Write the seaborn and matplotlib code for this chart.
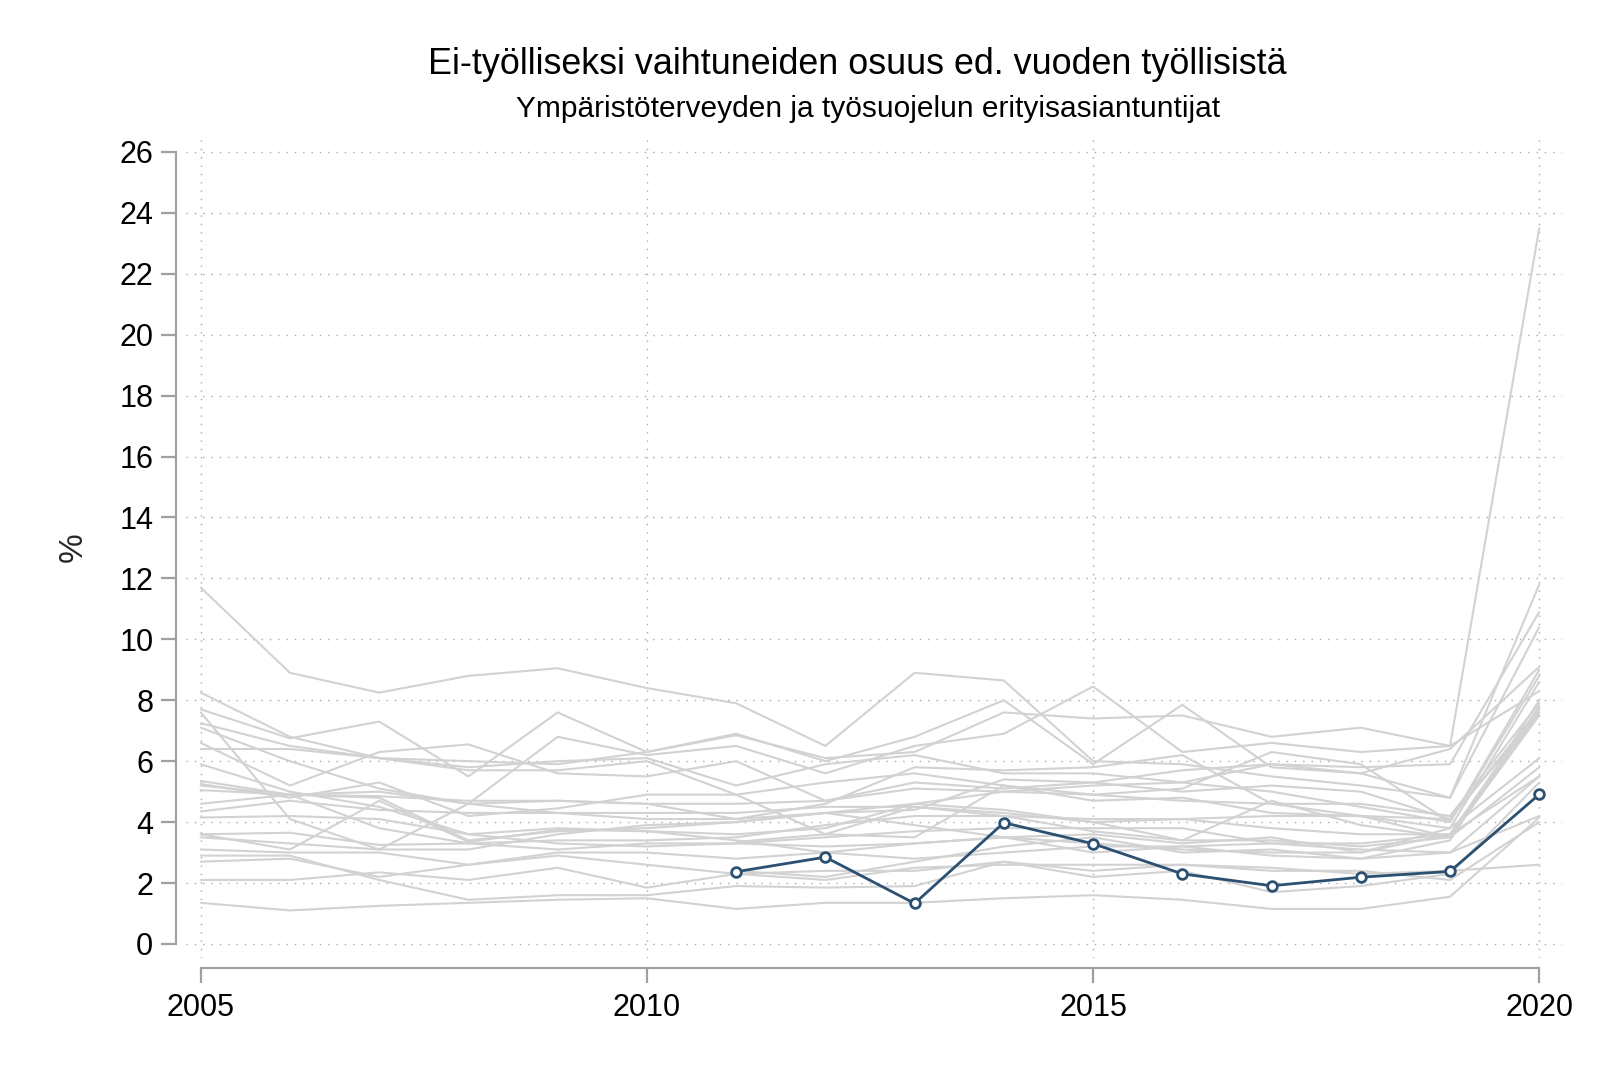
import numpy as np
import pandas as pd
import matplotlib
matplotlib.use("Agg")
import matplotlib.pyplot as plt
import seaborn as sns

years = list(range(2005, 2021))
nan = np.nan

# Highlighted occupation group
highlight_name = "Ympäristöterveyden ja työsuojelun erityisasiantuntijat"
highlight_values = [nan, nan, nan, nan, nan, nan, 2.37, 2.85, 1.33, 3.98, 3.29, 2.30, 1.91, 2.19, 2.38, 4.91]

# Other occupation groups (background)
g01 = [11.7, 8.9, 8.25, 8.8, 9.05, 8.4, 7.9, 6.5, 8.9, 8.65, 6.0, 5.9, 5.5, 5.2, 4.8, 11.8]
g02 = [8.25, 6.8, 6.1, 6.0, 5.9, 6.3, 6.85, 6.1, 6.3, 7.6, 7.4, 7.5, 6.8, 7.1, 6.5, 23.5]
g03 = [7.7, 6.75, 7.3, 5.5, 7.6, 6.3, 6.9, 6.0, 6.8, 8.0, 5.9, 7.85, 5.8, 5.6, 6.4, 9.1]
g04 = [7.6, 4.1, 3.1, 4.6, 6.8, 6.2, 6.5, 5.6, 6.5, 6.9, 8.45, 6.3, 6.6, 6.3, 6.5, 8.3]
g05 = [7.25, 6.5, 6.1, 5.8, 6.0, 6.1, 5.2, 5.9, 6.2, 5.6, 5.6, 5.3, 5.9, 5.8, 5.9, 10.9]
g06 = [7.1, 6.0, 5.1, 4.6, 4.3, 4.1, 4.1, 4.6, 5.8, 5.7, 5.8, 6.2, 4.6, 4.6, 4.2, 7.9]
g07 = [6.6, 5.2, 6.3, 6.55, 5.6, 5.5, 6.0, 4.7, 5.3, 5.1, 5.3, 5.0, 5.2, 5.0, 4.1, 7.6]
g08 = [6.4, 6.4, 6.1, 5.7, 5.7, 6.0, 4.9, 5.3, 5.6, 5.2, 4.9, 5.1, 6.3, 5.9, 4.0, 9.0]
g09 = [5.9, 5.0, 4.5, 3.6, 3.8, 3.7, 3.6, 3.8, 4.6, 4.4, 4.0, 3.4, 4.7, 3.9, 3.5, 7.5]
g10 = [5.35, 4.9, 5.0, 4.6, 4.7, 4.6, 4.1, 4.3, 4.4, 5.4, 5.3, 5.7, 5.9, 5.6, 4.8, 10.4]
g11 = [5.25, 4.8, 5.3, 4.2, 4.45, 4.9, 4.9, 3.6, 3.5, 5.2, 4.7, 4.8, 4.3, 4.2, 4.1, 7.7]
g12 = [5.2, 4.9, 4.8, 3.4, 3.7, 3.8, 4.0, 4.3, 4.6, 5.0, 5.2, 5.3, 5.0, 4.5, 4.0, 8.8]
g13 = [5.05, 4.9, 4.85, 4.7, 4.7, 4.6, 4.6, 4.7, 5.1, 5.0, 4.9, 4.7, 4.6, 4.2, 3.8, 6.1]
g14 = [4.6, 4.9, 3.8, 3.3, 3.4, 3.4, 3.5, 3.9, 4.2, 4.2, 3.7, 3.4, 3.4, 3.2, 3.5, 5.8]
g15 = [4.35, 4.7, 4.4, 4.3, 4.3, 4.3, 4.3, 4.5, 4.5, 4.2, 4.1, 4.1, 4.2, 4.2, 3.5, 7.6]
g16 = [4.15, 4.2, 4.1, 3.6, 3.3, 3.2, 3.3, 3.5, 3.7, 3.8, 3.8, 3.8, 3.3, 3.3, 3.6, 5.5]
g17 = [3.6, 3.1, 4.7, 3.35, 3.75, 3.7, 3.4, 3.0, 2.8, 3.0, 3.2, 3.2, 3.3, 3.1, 3.0, 4.2]
g18 = [3.6, 3.65, 3.25, 3.3, 3.1, 3.3, 3.3, 3.2, 3.3, 3.5, 3.6, 3.3, 3.5, 3.0, 3.6, 7.7]
g19 = [3.5, 3.3, 3.1, 3.1, 3.6, 3.9, 4.0, 4.3, 3.9, 3.5, 3.3, 3.1, 3.0, 3.0, 3.8, 8.6]
g20 = [3.1, 3.0, 3.0, 2.6, 3.0, 3.0, 2.8, 3.0, 3.3, 3.5, 3.0, 3.2, 2.9, 2.8, 3.0, 5.5]
g21 = [2.7, 2.8, 2.2, 2.6, 2.9, 2.6, 2.3, 2.4, 2.4, 2.7, 2.4, 2.6, 2.4, 2.4, 2.1, 4.0]
g22 = [2.1, 2.1, 2.35, 2.1, 2.5, 1.85, 2.3, 2.1, 2.5, 2.6, 2.6, 2.6, 2.5, 2.3, 2.4, 2.6]
g23 = [1.35, 1.1, 1.25, 1.35, 1.45, 1.5, 1.15, 1.35, 1.35, 1.5, 1.6, 1.45, 1.15, 1.15, 1.55, 4.15]
g24 = [2.9, 2.9, 2.1, 1.45, 1.6, 1.6, 1.9, 1.85, 1.9, 2.7, 2.2, 2.4, 1.7, 1.9, 2.3, 5.3]
g25 = [nan, nan, nan, nan, nan, nan, 3.35, 3.6, 4.5, 4.3, 4.0, 4.1, 3.8, 3.6, 3.6, 7.8]
g26 = [nan, nan, nan, nan, nan, nan, 2.4, 2.2, 2.7, 3.2, 3.5, 3.0, 3.1, 2.8, 3.4, 8.0]

background = [g01, g02, g03, g04, g05, g06, g07, g08, g09, g10, g11, g12, g13,
              g14, g15, g16, g17, g18, g19, g20, g21, g22, g23, g24, g25, g26]

title = "Ei-työlliseksi vaihtuneiden osuus ed. vuoden työllisistä"
ylabel = "%"
yticks = list(range(0, 27, 2))
xticks = [2005, 2010, 2015, 2020]

rows = []
for i, s in enumerate(background):
    for y, v in zip(years, s):
        rows.append({"group": f"g{i+1:02d}", "year": y, "value": v})
bg = pd.DataFrame(rows).dropna()
hl = pd.DataFrame({"year": years, "value": highlight_values}).dropna()

sns.set_theme(style="white")
plt.rcParams["font.family"] = ["Liberation Sans", "DejaVu Sans"]

fig = plt.figure(figsize=(16, 10.67), dpi=100)
ax = fig.add_axes([0.11625, 0.1022, 0.86, 0.7694])

grid_c = "#a8a8a8"
for yt in yticks:
    ax.axhline(yt, color=grid_c, lw=1.0, dashes=(1, 5), zorder=0)
for xt in xticks:
    ax.axvline(xt, color=grid_c, lw=1.0, dashes=(1, 5), zorder=0)

sns.lineplot(data=bg, x="year", y="value", units="group", estimator=None,
             color="#d2d2d2", lw=1.5, ax=ax, zorder=2)
sns.lineplot(data=hl, x="year", y="value", color="#2c5072", lw=2.0, ax=ax,
             marker="o", markersize=7, markerfacecolor="white",
             markeredgecolor="#2c5072", markeredgewidth=2.0, zorder=4)

ax.set_xlim(2004.835, 2020.255)
ax.set_ylim(-0.46, 26.49)
ax.set_xticks(xticks)
ax.set_yticks(yticks)
ax.set_xticklabels([str(x) for x in xticks])
ax.set_yticklabels([str(y) for y in yticks])
ax.set_xlabel("")
ax.set_ylabel(ylabel, fontsize=24, labelpad=22)

spine_c = "#a0a0a0"
for side in ["top", "right"]:
    ax.spines[side].set_visible(False)
ax.spines["left"].set_position(("outward", 7))
ax.spines["bottom"].set_position(("outward", 7))
ax.spines["left"].set_bounds(0, 26)
ax.spines["bottom"].set_bounds(2005, 2020)
for side in ["left", "bottom"]:
    ax.spines[side].set_color(spine_c)
    ax.spines[side].set_linewidth(1.6)

ax.tick_params(axis="both", which="major", length=10.5, width=1.6, color=spine_c,
               labelsize=22, labelcolor="black", direction="out")
ax.tick_params(axis="y", pad=6, left=True)
ax.tick_params(axis="x", pad=8, bottom=True)

fig.text(0.536, 0.940, title, ha="center", va="center", fontsize=25.8, color="black")
fig.text(0.5425, 0.898, highlight_name, ha="center", va="center", fontsize=21.5, color="black")

fig.savefig("out.png", dpi=100, facecolor="white")
